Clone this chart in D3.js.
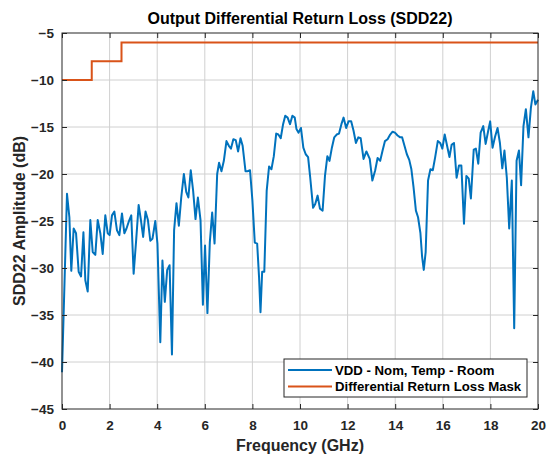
<!DOCTYPE html>
<html>
<head>
<meta charset="utf-8">
<script src="https://cdn.jsdelivr.net/npm/d3@7"></script>
<style>
  body { margin: 0; background: #fff; }
  svg { display: block; }
</style>
</head>
<body>
<div id="chart"></div>
<script>
const freqGHz = [
  0.00, 0.21, 0.31, 0.39, 0.49, 0.59, 0.70, 0.80, 0.90, 0.98,
  1.08, 1.19, 1.29, 1.40, 1.50, 1.61, 1.71, 1.82, 1.92, 2.00,
  2.10, 2.20, 2.31, 2.41, 2.52, 2.62, 2.71, 2.80, 2.91, 3.01,
  3.12, 3.22, 3.31, 3.41, 3.51, 3.61, 3.71, 3.80, 3.92, 4.01,
  4.13, 4.22, 4.32, 4.42, 4.52, 4.62, 4.71, 4.81, 4.91, 5.01,
  5.12, 5.22, 5.31, 5.41, 5.51, 5.61, 5.71, 5.82, 5.92, 6.01,
  6.11, 6.21, 6.31, 6.41, 6.52, 6.60, 6.70, 6.80, 6.91, 7.01,
  7.10, 7.20, 7.30, 7.40, 7.50, 7.59, 7.71, 7.80, 7.90, 8.00,
  8.10, 8.20, 8.28, 8.34, 8.41, 8.50, 8.60, 8.70, 8.80, 8.90,
  9.00, 9.09, 9.19, 9.29, 9.38, 9.48, 9.58, 9.68, 9.78, 9.85,
  9.94, 10.04, 10.14, 10.24, 10.34, 10.43, 10.55, 10.64, 10.74, 10.84,
  10.95, 11.05, 11.15, 11.24, 11.34, 11.44, 11.54, 11.64, 11.74, 11.83,
  11.94, 12.04, 12.15, 12.25, 12.35, 12.45, 12.55, 12.67, 12.79, 12.93,
  13.04, 13.16, 13.26, 13.37, 13.47, 13.57, 13.68, 13.79, 13.89, 13.99,
  14.10, 14.21, 14.29, 14.39, 14.49, 14.59, 14.68, 14.77, 14.87, 14.96,
  15.06, 15.13, 15.20, 15.28, 15.38, 15.48, 15.58, 15.68, 15.79, 15.89,
  15.98, 16.08, 16.18, 16.28, 16.37, 16.47, 16.58, 16.68, 16.78, 16.89,
  16.99, 17.09, 17.18, 17.30, 17.39, 17.49, 17.59, 17.70, 17.80, 17.90,
  17.99, 18.09, 18.19, 18.30, 18.40, 18.50, 18.59, 18.69, 18.79, 18.90,
  19.00, 19.10, 19.20, 19.29, 19.39, 19.49, 19.60, 19.70, 19.80, 19.89,
  20.00
];
const sdd22dB = [
  -41.1, -22.1, -24.6, -30.3, -25.8, -26.3, -30.4, -30.9, -26.2, -31.3,
  -32.5, -24.9, -28.3, -28.6, -24.9, -26.3, -28.5, -24.4, -26.3, -26.5,
  -24.4, -24.0, -26.0, -26.5, -24.2, -26.3, -25.8, -25.1, -24.4, -30.6,
  -26.9, -23.3, -24.8, -26.7, -24.0, -24.9, -27.1, -26.9, -25.0, -27.4,
  -37.9, -29.2, -33.6, -30.2, -29.7, -39.2, -26.0, -23.1, -25.5, -22.5,
  -20.0, -21.9, -22.5, -19.6, -21.8, -24.8, -22.5, -24.9, -33.9, -27.6,
  -34.8, -27.3, -24.1, -27.4, -20.0, -18.8, -19.7, -18.6, -16.5, -17.0,
  -17.3, -16.3, -16.4, -17.6, -16.2, -17.0, -19.7, -19.7, -19.6, -22.8,
  -27.3, -27.4, -31.0, -34.7, -30.4, -30.4, -21.8, -19.2, -19.5, -18.1,
  -15.7, -15.8, -16.2, -14.7, -13.8, -14.0, -14.7, -13.8, -14.0, -15.2,
  -15.6, -15.1, -17.2, -17.9, -18.2, -20.4, -23.6, -23.2, -22.3, -23.7,
  -23.9, -20.2, -18.1, -18.6, -17.2, -16.1, -15.8, -15.7, -14.7, -14.0,
  -15.1, -14.4, -14.4, -15.4, -16.7, -16.1, -16.2, -18.4, -17.6, -18.4,
  -20.7, -19.6, -18.3, -18.6, -17.5, -16.5, -16.3, -15.8, -15.5, -15.6,
  -15.9, -16.1, -16.1, -17.0, -17.9, -18.5, -19.5, -21.4, -23.9, -24.6,
  -26.3, -28.8, -30.2, -28.3, -20.7, -19.5, -19.6, -18.2, -16.5, -16.7,
  -17.3, -15.8, -17.0, -18.2, -16.9, -16.7, -20.4, -19.1, -19.1, -25.3,
  -20.2, -20.5, -22.6, -17.4, -17.3, -18.9, -15.6, -14.9, -16.8, -15.5,
  -14.4, -17.2, -16.1, -15.1, -16.7, -19.4, -17.5, -20.4, -25.8, -20.7,
  -36.4, -18.6, -17.5, -21.2, -14.9, -13.1, -16.1, -13.0, -11.2, -12.6,
  -12.1
];

// return loss mask (step limit)
const maskFreqGHz = [0, 1.25, 1.25, 2.5, 2.5, 20];
const maskDB = [-10, -10, -8, -8, -6, -6];

const xTicks = [0, 2, 4, 6, 8, 10, 12, 14, 16, 18, 20];
const yTicks = [-45, -40, -35, -30, -25, -20, -15, -10, -5];
const seriesNames = ["VDD - Nom, Temp - Room", "Differential Return Loss Mask"];
const seriesColors = ["#0072BD", "#D95319"];

const width = 548, height = 455;
const margin = { top: 33, right: 10, bottom: 46, left: 62 };
const w = width - margin.left - margin.right;
const h = height - margin.top - margin.bottom;
const axisColor = "#262626";
const font = "'Liberation Sans', Arial, Helvetica, sans-serif";

const svg = d3.select("#chart").append("svg")
  .attr("width", width)
  .attr("height", height)
  .attr("font-family", font);

const g = svg.append("g")
  .attr("transform", `translate(${margin.left},${margin.top})`);

const x = d3.scaleLinear().domain([0, 20]).range([0, w]);
const y = d3.scaleLinear().domain([-45, -5]).range([h, 0]);

// grid
g.append("g").attr("class", "grid-x")
  .selectAll("line").data(xTicks.slice(1, -1)).join("line")
  .attr("x1", d => x(d)).attr("x2", d => x(d))
  .attr("y1", 0).attr("y2", h)
  .attr("stroke", "#d0d0d0").attr("stroke-width", 1);
g.append("g").attr("class", "grid-y")
  .selectAll("line").data(yTicks.slice(1, -1)).join("line")
  .attr("x1", 0).attr("x2", w)
  .attr("y1", d => y(d)).attr("y2", d => y(d))
  .attr("stroke", "#d0d0d0").attr("stroke-width", 1);

// data lines
const line = d3.line().x(d => x(d[0])).y(d => y(d[1]));
g.append("path")
  .datum(maskFreqGHz.map((f, i) => [f, maskDB[i]]))
  .attr("fill", "none")
  .attr("stroke", seriesColors[1])
  .attr("stroke-width", 2)
  .attr("d", line);
g.append("path")
  .datum(freqGHz.map((f, i) => [f, sdd22dB[i]]))
  .attr("fill", "none")
  .attr("stroke", seriesColors[0])
  .attr("stroke-width", 2)
  .attr("stroke-linejoin", "round")
  .attr("d", line);

// axes, ticks pointing inward on all sides
const tickLen = 5;
const styleAxis = sel => {
  sel.select(".domain").remove();
  sel.selectAll("line").attr("stroke", axisColor);
  sel.selectAll("text")
    .attr("fill", axisColor)
    .attr("font-size", 13.5)
    .attr("font-weight", "bold")
    .attr("font-family", font);
};
g.append("g").attr("transform", `translate(0,${h})`)
  .call(d3.axisBottom(x).tickValues(xTicks).tickSize(-tickLen).tickPadding(11.5))
  .call(styleAxis);
g.append("g")
  .call(d3.axisTop(x).tickValues(xTicks).tickSize(-tickLen).tickFormat(""))
  .call(styleAxis);
g.append("g")
  .call(d3.axisLeft(y).tickValues(yTicks).tickSize(-tickLen).tickPadding(8))
  .call(styleAxis);
g.append("g").attr("transform", `translate(${w},0)`)
  .call(d3.axisRight(y).tickValues(yTicks).tickSize(-tickLen).tickFormat(""))
  .call(styleAxis);

g.append("rect")
  .attr("width", w).attr("height", h)
  .attr("fill", "none")
  .attr("stroke", axisColor)
  .attr("stroke-width", 1);

// labels
svg.append("text")
  .attr("x", margin.left + w / 2).attr("y", 24)
  .attr("text-anchor", "middle")
  .attr("font-size", 16).attr("font-weight", "bold")
  .attr("fill", "#000")
  .text("Output Differential Return Loss (SDD22)");
svg.append("text")
  .attr("x", margin.left + w / 2).attr("y", 451)
  .attr("text-anchor", "middle")
  .attr("font-size", 16).attr("font-weight", "bold")
  .attr("fill", axisColor)
  .text("Frequency (GHz)");
svg.append("text")
  .attr("transform", `translate(25,${margin.top + h / 2}) rotate(-90)`)
  .attr("text-anchor", "middle")
  .attr("font-size", 16).attr("font-weight", "bold")
  .attr("fill", axisColor)
  .text("SDD22 Amplitude (dB)");

// legend
const legend = svg.append("g").attr("transform", "translate(284,359)");
legend.append("rect")
  .attr("width", 243).attr("height", 38)
  .attr("fill", "#fff")
  .attr("stroke", axisColor).attr("stroke-width", 1);
const items = legend.selectAll("g.item").data(seriesNames).join("g")
  .attr("class", "item")
  .attr("transform", (d, i) => `translate(0,${11 + i * 16.5})`);
items.append("line")
  .attr("x1", 4).attr("x2", 48)
  .attr("stroke", (d, i) => seriesColors[i])
  .attr("stroke-width", 2);
items.append("text")
  .attr("x", 51).attr("y", 4.5)
  .attr("font-size", 13.2).attr("font-weight", "bold")
  .attr("fill", "#000")
  .text(d => d);
</script>
</body>
</html>
